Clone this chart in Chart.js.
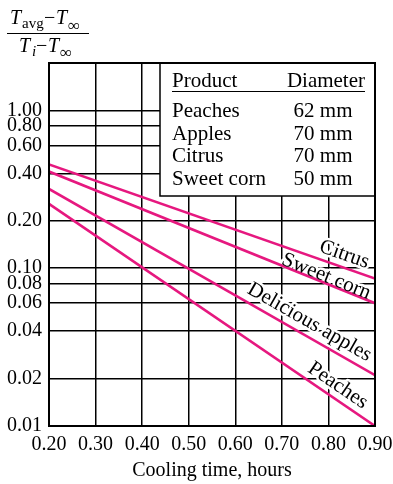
<!DOCTYPE html>
<html>
<head>
<meta charset="utf-8">
<script src="https://cdn.jsdelivr.net/npm/chart.js@4.4.0/dist/chart.umd.min.js"></script>
<style>
  html, body { margin: 0; padding: 0; background: #fff; }
  #wrap { width: 393px; height: 484px; position: relative; }
</style>
</head>
<body>
<div id="wrap"><canvas id="coolChart"></canvas></div>
<script>
// cooling time (hours) at the ends of each straight line
const times = [0.20, 0.90];
const citrus = [0.455, 0.086];
const sweetCorn = [0.41, 0.060];
const apples = [0.318, 0.021];
const peaches = [0.256, 0.010];

const xTicks = [0.2, 0.3, 0.4, 0.5, 0.6, 0.7, 0.8, 0.9];
const xTickLabels = ['0.20', '0.30', '0.40', '0.50', '0.60', '0.70', '0.80', '0.90'];
const yTicks = [0.01, 0.02, 0.04, 0.06, 0.08, 0.1, 0.2, 0.4, 0.6, 0.8, 1.0];
const yTickLabels = ['0.01', '0.02', '0.04', '0.06', '0.08', '0.10', '0.20', '0.40', '0.60', '0.80', '1.00'];

const products = ['Peaches', 'Apples', 'Citrus', 'Sweet corn'];
const diameters = ['62 mm', '70 mm', '70 mm', '50 mm'];

const SERIF = '"Liberation Serif", "DejaVu Serif", serif';
const PINK = '#e6187f';

function pts(vals) {
    return times.map((t, i) => ({ x: t, y: vals[i] }));
}

// where each curve label sits (x value along line) and how far above it
const curveLabels = {
    'Citrus': { at: 0.825, lift: 7 },
    'Sweet corn': { at: 0.79, lift: 1 },
    'Delicious apples': { at: 0.745, lift: 8 },
    'Peaches': { at: 0.805, lift: 7 }
};

function eachCurveLabel(chart, fn) {
    const ctx = chart.ctx;
    const xs = chart.scales.x, ys = chart.scales.y;
    chart.data.datasets.forEach(ds => {
        const cfg = curveLabels[ds.label];
        if (!cfg) return;
        const p0 = { x: xs.getPixelForValue(ds.data[0].x), y: ys.getPixelForValue(ds.data[0].y) };
        const p1 = { x: xs.getPixelForValue(ds.data[1].x), y: ys.getPixelForValue(ds.data[1].y) };
        const ang = Math.atan2(p1.y - p0.y, p1.x - p0.x);
        const t = (xs.getPixelForValue(cfg.at) - p0.x) / (p1.x - p0.x);
        ctx.save();
        ctx.translate(p0.x + t * (p1.x - p0.x), p0.y + t * (p1.y - p0.y));
        ctx.rotate(ang);
        ctx.font = '21px ' + SERIF;
        ctx.textAlign = 'center';
        ctx.textBaseline = 'alphabetic';
        fn(ctx, ds.label, -cfg.lift);
        ctx.restore();
    });
}

const decorPlugin = {
    id: 'decor',
    beforeDatasetsDraw(chart) {
        const ctx = chart.ctx;
        const a = chart.chartArea;
        ctx.save();
        // white gaps in the grid behind the curve labels
        eachCurveLabel(chart, (c, txt, y) => {
            c.strokeStyle = '#fff';
            c.lineWidth = 5;
            c.lineJoin = 'round';
            c.strokeText(txt, 0, y);
        });
        // legend table box
        ctx.fillStyle = '#fff';
        ctx.fillRect(160, a.top, a.right - 160, 196 - a.top);
        ctx.strokeStyle = '#000';
        ctx.lineWidth = 1.5;
        ctx.strokeRect(160, a.top, a.right - 160, 196 - a.top);
        ctx.fillStyle = '#000';
        ctx.font = '21px ' + SERIF;
        ctx.textBaseline = 'alphabetic';
        ctx.textAlign = 'left';
        ctx.fillText('Product', 172, 87);
        ctx.textAlign = 'right';
        ctx.fillText('Diameter', 365, 87);
        ctx.lineWidth = 1.2;
        ctx.beginPath();
        ctx.moveTo(172, 91.5);
        ctx.lineTo(365, 91.5);
        ctx.stroke();
        products.forEach((p, i) => {
            const y = 117 + i * 22.5;
            ctx.textAlign = 'left';
            ctx.fillText(p, 172, y);
            ctx.textAlign = 'center';
            ctx.fillText(diameters[i], 323, y);
        });
        ctx.restore();
    },
    afterDraw(chart) {
        const ctx = chart.ctx;
        const a = chart.chartArea;
        ctx.save();
        // frame
        ctx.strokeStyle = '#000';
        ctx.lineWidth = 2;
        ctx.strokeRect(a.left, a.top, a.right - a.left, a.bottom - a.top);

        // labels along the lines
        eachCurveLabel(chart, (c, txt, y) => {
            c.fillStyle = '#000';
            c.fillText(txt, 0, y);
        });

        // y axis title as a fraction
        ctx.fillStyle = '#000';
        ctx.textAlign = 'left';
        ctx.textBaseline = 'alphabetic';
        ctx.font = 'italic 20px ' + SERIF;
        ctx.fillText('T', 10, 24);
        ctx.fillText('T', 56, 24);
        ctx.fillText('T', 19, 52);
        ctx.fillText('T', 48, 52);
        ctx.font = '15px ' + SERIF;
        ctx.fillText('avg', 22, 28);
        ctx.font = 'italic 15px ' + SERIF;
        ctx.fillText('i', 32, 56);
        ctx.font = '20px ' + SERIF;
        ctx.fillText('\u2212', 44, 24);
        ctx.fillText('\u2212', 36, 52);
        ctx.font = '17px ' + SERIF;
        ctx.fillText('\u221e', 68, 31);
        ctx.fillText('\u221e', 60, 58);
        ctx.lineWidth = 1;
        ctx.beginPath();
        ctx.moveTo(7, 33.5);
        ctx.lineTo(89, 33.5);
        ctx.stroke();
        ctx.restore();
    }
};

const ctx = document.getElementById('coolChart').getContext('2d');
new Chart(ctx, {
    type: 'line',
    data: {
        datasets: [
            { label: 'Citrus', data: pts(citrus) },
            { label: 'Sweet corn', data: pts(sweetCorn) },
            { label: 'Delicious apples', data: pts(apples) },
            { label: 'Peaches', data: pts(peaches) }
        ].map(d => Object.assign(d, {
            borderColor: PINK,
            borderWidth: 2.6,
            pointRadius: 0,
            fill: false,
            tension: 0
        }))
    },
    options: {
        responsive: true,
        maintainAspectRatio: false,
        animation: false,
        layout: { padding: { top: 63, right: 18, left: 0, bottom: 0 } },
        plugins: {
            legend: { display: false },
            tooltip: { enabled: false }
        },
        scales: {
            x: {
                type: 'linear',
                min: 0.2,
                max: 0.9,
                afterBuildTicks: s => { s.ticks = xTicks.map(v => ({ value: v })); },
                afterFit: s => {
                    s.height = 58;
                    s.paddingLeft = 0;
                    s.paddingRight = 0;
                },
                ticks: {
                    color: '#000',
                    font: { family: SERIF, size: 20 },
                    padding: 7,
                    maxRotation: 0,
                    callback: (v, i) => xTickLabels[i]
                },
                grid: { color: '#000', lineWidth: 1.5, drawTicks: false },
                border: { color: '#000', width: 2 },
                title: {
                    display: true,
                    text: 'Cooling time, hours',
                    color: '#000',
                    font: { family: SERIF, size: 20 },
                    padding: { top: 0, bottom: 1 }
                }
            },
            y: {
                type: 'logarithmic',
                min: 0.01,
                max: 2,
                afterBuildTicks: s => { s.ticks = yTicks.map(v => ({ value: v })); },
                afterFit: s => {
                    s.width = 49;
                    s.paddingTop = 0;
                    s.paddingBottom = 0;
                },
                ticks: {
                    color: '#000',
                    font: { family: SERIF, size: 20 },
                    padding: 7,
                    autoSkip: false,
                    callback: (v, i) => yTickLabels[i]
                },
                grid: { color: '#000', lineWidth: 1.5, drawTicks: false },
                border: { color: '#000', width: 2 }
            }
        }
    },
    plugins: [decorPlugin]
});
</script>
</body>
</html>
